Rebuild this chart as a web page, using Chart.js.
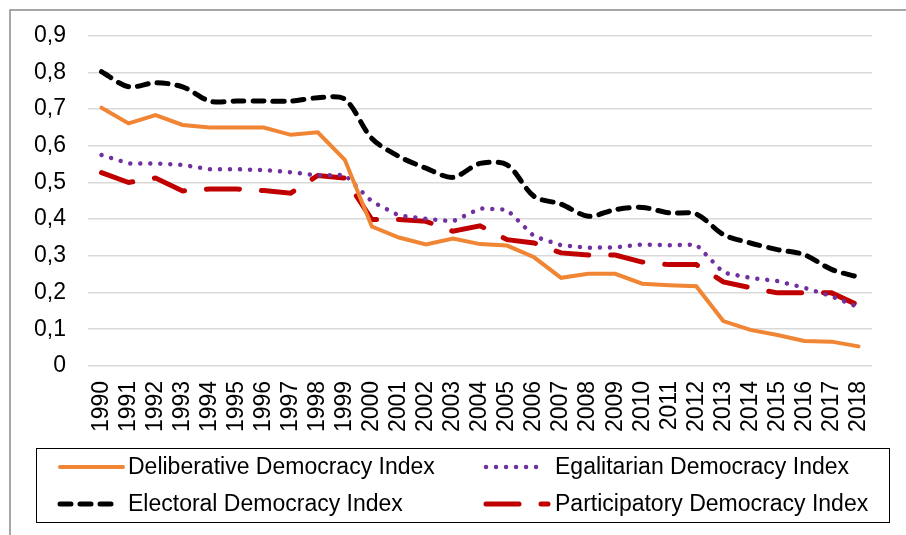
<!DOCTYPE html>
<html>
<head>
<meta charset="utf-8">
<script src="https://cdn.jsdelivr.net/npm/chart.js@4.4.1/dist/chart.umd.min.js"></script>
<style>
  html, body { margin: 0; padding: 0; background: #fff; }
  #wrap { width: 906px; height: 535px; position: relative; }
</style>
</head>
<body>
<div id="wrap"><canvas id="graficoDemocracia"></canvas></div>
<script>
const anos = ["1990","1991","1992","1993","1994","1995","1996","1997","1998","1999",
  "2000","2001","2002","2003","2004","2005","2006","2007","2008","2009",
  "2010","2011","2012","2013","2014","2015","2016","2017","2018"];

const deliberativo = [0.704,0.661,0.684,0.657,0.650,0.650,0.650,0.630,0.637,0.562,
  0.380,0.350,0.331,0.347,0.332,0.328,0.296,0.240,0.251,0.251,
  0.224,0.220,0.217,0.122,0.098,0.084,0.068,0.066,0.053];

const eleitoral = [0.802,0.761,0.772,0.761,0.722,0.722,0.722,0.722,0.731,0.727,
  0.620,0.571,0.539,0.514,0.552,0.548,0.462,0.441,0.408,0.426,
  0.432,0.417,0.414,0.358,0.335,0.317,0.303,0.263,0.242];

const igualitario = [0.575,0.552,0.552,0.548,0.536,0.536,0.534,0.528,0.519,0.521,
  0.448,0.410,0.401,0.394,0.429,0.426,0.353,0.329,0.322,0.323,
  0.331,0.329,0.331,0.254,0.240,0.231,0.213,0.190,0.160];

const participativo = [0.527,0.500,0.512,0.477,0.482,0.482,0.478,0.471,0.519,0.512,
  0.399,0.399,0.394,0.367,0.382,0.344,0.335,0.308,0.302,0.302,
  0.283,0.276,0.276,0.229,0.213,0.199,0.199,0.199,0.165];

const ticksY = [0, 0.1, 0.2, 0.3, 0.4, 0.5, 0.6, 0.7, 0.8, 0.9];

const fonte = "'Liberation Sans', Arial, sans-serif";

// moldura cinza e legenda com caixa, como no original
const molduraELegenda = {
  id: "molduraELegenda",
  beforeDraw(chart) {
    const c = chart.ctx;
    c.save();
    c.strokeStyle = "#8a8a8a";
    c.lineWidth = 1.5;
    c.strokeRect(10, 10, 2000, 2000);
    c.restore();
  },
  afterDraw(chart) {
    const c = chart.ctx;
    const ds = chart.data.datasets;
    c.save();
    c.strokeStyle = "#000";
    c.lineWidth = 1;
    c.strokeRect(36.5, 448.5, 853, 74);
    const pos = [
      { x1: 60, x2: 123, tx: 128, y: 467 },
      { x1: 486, x2: 543, tx: 555, y: 467 },
      { x1: 60, x2: 117, tx: 128, y: 504 },
      { x1: 486, x2: 548, tx: 555, y: 504 }
    ];
    ds.forEach((d, i) => {
      const p = pos[i];
      c.beginPath();
      c.strokeStyle = d.borderColor;
      c.lineWidth = d.borderWidth;
      c.lineCap = d.borderCapStyle || "butt";
      c.setLineDash(d.borderDash || []);
      c.moveTo(p.x1, p.y);
      c.lineTo(p.x2, p.y);
      c.stroke();
      c.setLineDash([]);
      c.fillStyle = "#000";
      c.font = "23px " + fonte;
      c.textBaseline = "middle";
      c.textAlign = "left";
      c.fillText(d.label, p.tx, p.y + 1);
    });
    c.restore();
  }
};

const ctx = document.querySelector("#graficoDemocracia");

new Chart(ctx, {
  type: "line",
  data: {
    labels: anos,
    datasets: [
      {
        label: "Deliberative Democracy Index",
        data: deliberativo,
        borderColor: "#F08534",
        borderWidth: 4,
        borderCapStyle: "round",
        pointRadius: 0,
        tension: 0
      },
      {
        label: "Egalitarian Democracy Index",
        data: igualitario,
        borderColor: "#7030A0",
        borderWidth: 4.5,
        borderDash: [0.01, 10],
        borderCapStyle: "round",
        pointRadius: 0,
        tension: 0
      },
      {
        label: "Electoral Democracy Index",
        data: eleitoral,
        borderColor: "#000000",
        borderWidth: 5,
        borderDash: [11, 9],
        borderCapStyle: "round",
        pointRadius: 0,
        tension: 0.3
      },
      {
        label: "Participatory Democracy Index",
        data: participativo,
        borderColor: "#C00000",
        borderWidth: 5,
        borderDash: [33, 22],
        borderCapStyle: "round",
        pointRadius: 0,
        tension: 0
      }
    ]
  },
  options: {
    responsive: true,
    maintainAspectRatio: false,
    animation: false,
    layout: { padding: { left: 0, right: 34, top: 34, bottom: 88 } },
    plugins: {
      legend: { display: false },
      tooltip: { enabled: false }
    },
    scales: {
      x: {
        offset: true,
        grid: { display: false, drawTicks: false },
        border: { display: false },
        ticks: {
          autoSkip: false,
          minRotation: 90,
          maxRotation: 90,
          padding: 15,
          color: "#000",
          font: { size: 23, family: fonte }
        }
      },
      y: {
        min: 0,
        max: 0.9,
        afterFit(scale) { scale.width = 88; },
        afterBuildTicks(scale) { scale.ticks = ticksY.map(v => ({ value: v })); },
        grid: { color: "#d9d9d9", lineWidth: 1.5, drawTicks: false },
        border: { display: false },
        ticks: {
          padding: 22,
          color: "#000",
          font: { size: 23, family: fonte },
          callback: v => v === 0 ? "0" : v.toFixed(1).replace(".", ",")
        }
      }
    }
  },
  plugins: [molduraELegenda]
});
</script>
</body>
</html>
